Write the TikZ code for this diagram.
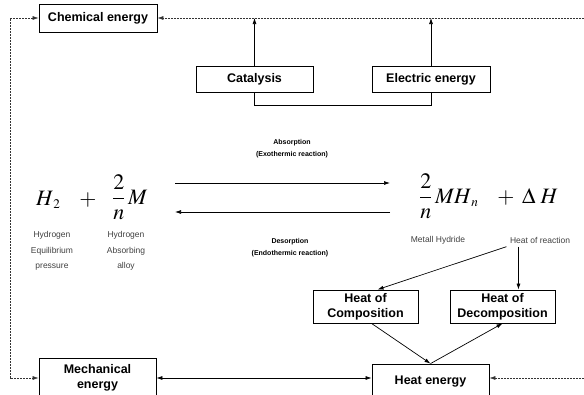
\documentclass[tikz,border=0pt]{standalone}
\usepackage{mathptmx}
\usepackage[no-math]{fontspec}
\setmainfont{Liberation Sans}
\usetikzlibrary{arrows.meta}
\usetikzlibrary{calc,positioning}

\begin{document}
\begin{tikzpicture}[x=1pt, y=-1pt, >={Latex[length=6pt,width=4pt]},
  box/.style={draw, rectangle, line width=0.8pt, align=center, inner sep=0pt,
    font=\fontsize{12.5}{15}\selectfont\bfseries},
  note/.style={align=center, font=\fontsize{8.5}{15.5}\selectfont, text=black!75},
  tag/.style={align=center, font=\fontsize{7}{12}\selectfont\bfseries},
  eq/.style={anchor=base west, inner sep=0pt, font=\fontsize{22}{26}\selectfont},
  link/.style={line width=0.7pt},
  ret/.style={dash pattern=on 2pt off 1pt, line width=0.6pt, black!80}]
  \useasboundingbox (0,0) rectangle (584,394);
  \clip (0,0) rectangle (584,394);

  \node[box, minimum width=118pt, minimum height=28pt] (CE) at (98,18) {Chemical energy};
  \node[box, minimum width=117pt, minimum height=26pt] (CAT) at (254.5,79) {Catalysis};
  \node[box, minimum width=118pt, minimum height=26pt, node distance=176.5pt, right of=CAT] (EE) {Electric energy};

  \node[box, minimum width=105pt, minimum height=33pt] (HC) at (365.5,306.5) {Heat of\\Composition};
  \node[box, minimum width=105pt, minimum height=33pt, node distance=137pt, right of=HC] (HD) {Heat of\\Decomposition};
  \node[box, minimum width=117pt, minimum height=40pt] (ME) at (97.5,378) {Mechanical\\energy};
  \node[box, minimum width=117pt, minimum height=36pt] (HE) at (430.5,382) {Heat energy};

  \node[eq] (H2) at (36,205) {$H_{\,\scriptscriptstyle 2}$};
  \node[eq, anchor=base] (P1) at (88,205) {$+$};
  \node[eq] (M) at (112,204) {$\displaystyle\frac{2}{n}\,M$};
  \node[eq] (MH) at (419,203) {$\displaystyle\frac{2}{n}\,MH_{\,\scriptscriptstyle n}$};
  \node[eq, anchor=base] (P2) at (506,203) {$+$};
  \node[eq] (DH) at (522,203) {$\Delta\;H$};

  \node[note] (HEP) at (52,251) {Hydrogen\\Equilibrium\\pressure};
  \node[note] (HAA) at (126,251) {Hydrogen\\Absorbing\\alloy};
  \node[note] (MHY) at (438,240) {Metall Hydride};
  \node[note] (HR) at (540,240) {Heat of reaction};

  \node[tag] (ABS) at (292,149) {Absorption\\(Exothermic reaction)};
  \node[tag] (DES) at (290,248) {Desorption\\(Endothermic reaction)};

  \coordinate (A1) at (175,183);
  \coordinate (A2) at (390,183);
  \coordinate (D1) at (390,212);
  \coordinate (D2) at (175,212);
  \coordinate (TR) at (584,18);
  \coordinate (BR) at (584,378);
  \coordinate (TL) at (10,18);

  \draw[->, link] (A1) -- (A2);
  \draw[->, link] (D1) -- (D2);

  \draw[->, link] (CAT.north) -- (CAT.north |- CE.east);
  \draw[->, link] (EE.north) -- (EE.north |- CE.east);
  \draw[link] (CAT.south) -- ++(0,13) -| (EE.south);

  \draw[->, ret] (TR) -- (CE.east);
  \draw[<->, ret] (CE.west) -- (TL) |- (ME.west);
  \draw[->, ret] (BR) -- (HE.east |- BR);
  \draw[<->, link] (ME.east) -- (ME.east -| HE.west);

  \draw[->, link] (HR.south west) -- ([xshift=12pt]HC.north);
  \draw[->, link] ([xshift=12pt]HR.south west) -- ([xshift=12pt]HR.south west |- HD.north);
  \draw[->, link] ([xshift=6pt]HC.south) -- (HE.north);
  \draw[->, link] (HE.north) -- (HD.south);

\end{tikzpicture}
\end{document}
